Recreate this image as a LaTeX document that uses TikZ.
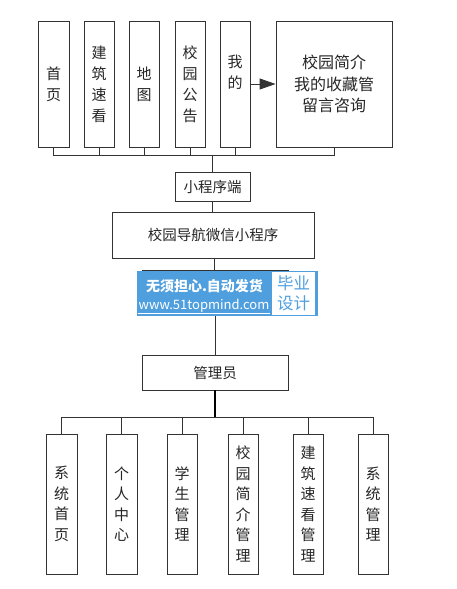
\documentclass[tikz,border=0pt]{standalone}
\usepackage{fontspec}
\setmainfont{Noto Sans CJK SC}
\usetikzlibrary{arrows.meta}
\definecolor{wmblue}{HTML}{4F9FDF}
\definecolor{lncol}{HTML}{333333}
\begin{document}
\begin{tikzpicture}[x=1pt,y=-1pt,
  box/.style={draw=lncol, line width=0.9pt, fill=white, inner sep=0pt, align=center, text=black!85},
  vfont/.style={font=\fontsize{15}{21}\selectfont},
  bfont/.style={font=\fontsize{15}{20.5}\selectfont},
  hfont/.style={font=\fontsize{14.5}{20}\selectfont},
  ln/.style={draw=lncol, line width=0.9pt}]
\useasboundingbox[fill=white] (0,0) rectangle (456,589);

% top row
\node[box, vfont, minimum width=31pt, minimum height=126pt] (a1) at (53.5,84) {首\\页};
\node[box, vfont, minimum width=30pt, minimum height=126pt] (a2) at (99,84) {建\\筑\\速\\看};
\node[box, vfont, minimum width=30pt, minimum height=126pt] (a3) at (144,84) {地\\图};
\node[box, vfont, minimum width=30pt, minimum height=126pt] (a4) at (190,84) {校\\园\\公\\告};
\node[box, minimum width=30pt, minimum height=126pt] (a5) at (235,84) {};
\node[vfont, align=center, text=black!85] (t5) at (235,72) {我\\的};
\node[box, font=\fontsize{16}{21.5}\selectfont, minimum width=116pt, minimum height=126pt] (big) at (334,84) {校园简介\\我的收藏管\\留言咨询};

\draw[ln, -{Triangle[length=16pt,width=11pt]}] (a5.east) -- (big.west);

\coordinate (busT) at (212,155);
\draw[ln] (a1.south) -- (a1.south |- busT) -- (big.south |- busT) -- (big.south);
\foreach \n in {a2,a3,a4,a5} \draw[ln] (\n.south) -- (\n.south |- busT);

% middle
\node[box, hfont, minimum width=75pt, minimum height=29pt] (p1) at (212.5,186.5) {小程序端};
\draw[ln] (busT) -- (busT |- p1.north);
\node[box, hfont, minimum width=202pt, minimum height=46pt] (p2) at (213,235) {校园导航微信小程序};
\draw[ln] (p1.south -| busT) -- (busT |- p2.north);
\node[box, minimum width=146pt, minimum height=36pt] (p3) at (215,288) {};
\draw[ln] (p2.south -| 214,0) -- (214,0 |- p3.north);
\node[box, hfont, minimum width=146pt, minimum height=35pt] (p4) at (215,372.5) {管理员};
\draw[ln] (p3.south) -- (p4.north);

% watermark
\node[fill=wmblue, minimum width=181pt, minimum height=45pt, inner sep=0pt] (wm) at (227.5,293.5) {};
\node[fill=white, minimum width=43pt, minimum height=43pt, inner sep=0pt] (wmw) at (293.5,293.5) {};
\node[text=white, font=\fontsize{14}{18}\selectfont\bfseries, inner sep=0pt] (wm1) at (204.5,286) {无须担心.自动发货};
\node[text=white, font=\fontsize{13}{16}\selectfont, inner sep=0pt] (wm2) at (204,305.5) {www.51topmind.com};
\draw[white, line width=0.8pt] ([yshift=-1.5pt]wm2.south west) -- ([yshift=-1.5pt]wm2.south east);
\node[text=wmblue, font=\fontsize{16.5}{20}\selectfont, align=center, inner sep=0pt] (wm3) at (293.5,293.5) {毕业\\设计};

% bottom
\coordinate (busB) at (215,417);
\draw[draw=black, line width=2pt] (p4.south) -- (busB);
\node[box, bfont, minimum width=31pt, minimum height=140pt] (b1) at (61.5,504) {系\\统\\首\\页};
\node[box, bfont, minimum width=31pt, minimum height=140pt] (b2) at (121.5,504) {个\\人\\中\\心};
\node[box, bfont, minimum width=30pt, minimum height=140pt] (b3) at (182,504) {学\\生\\管\\理};
\node[box, bfont, minimum width=30pt, minimum height=140pt] (b4) at (243,504) {校\\园\\简\\介\\管\\理};
\node[box, bfont, minimum width=30pt, minimum height=140pt] (b5) at (308,504) {建\\筑\\速\\看\\管\\理};
\node[box, bfont, minimum width=30pt, minimum height=140pt] (b6) at (373,504) {系\\统\\管\\理};
\draw[ln] (b1.north) -- (b1.north |- busB) -- (b6.north |- busB) -- (b6.north);
\foreach \n in {b2,b3,b4,b5} \draw[ln] (\n.north) -- (\n.north |- busB);
\end{tikzpicture}
\end{document}
